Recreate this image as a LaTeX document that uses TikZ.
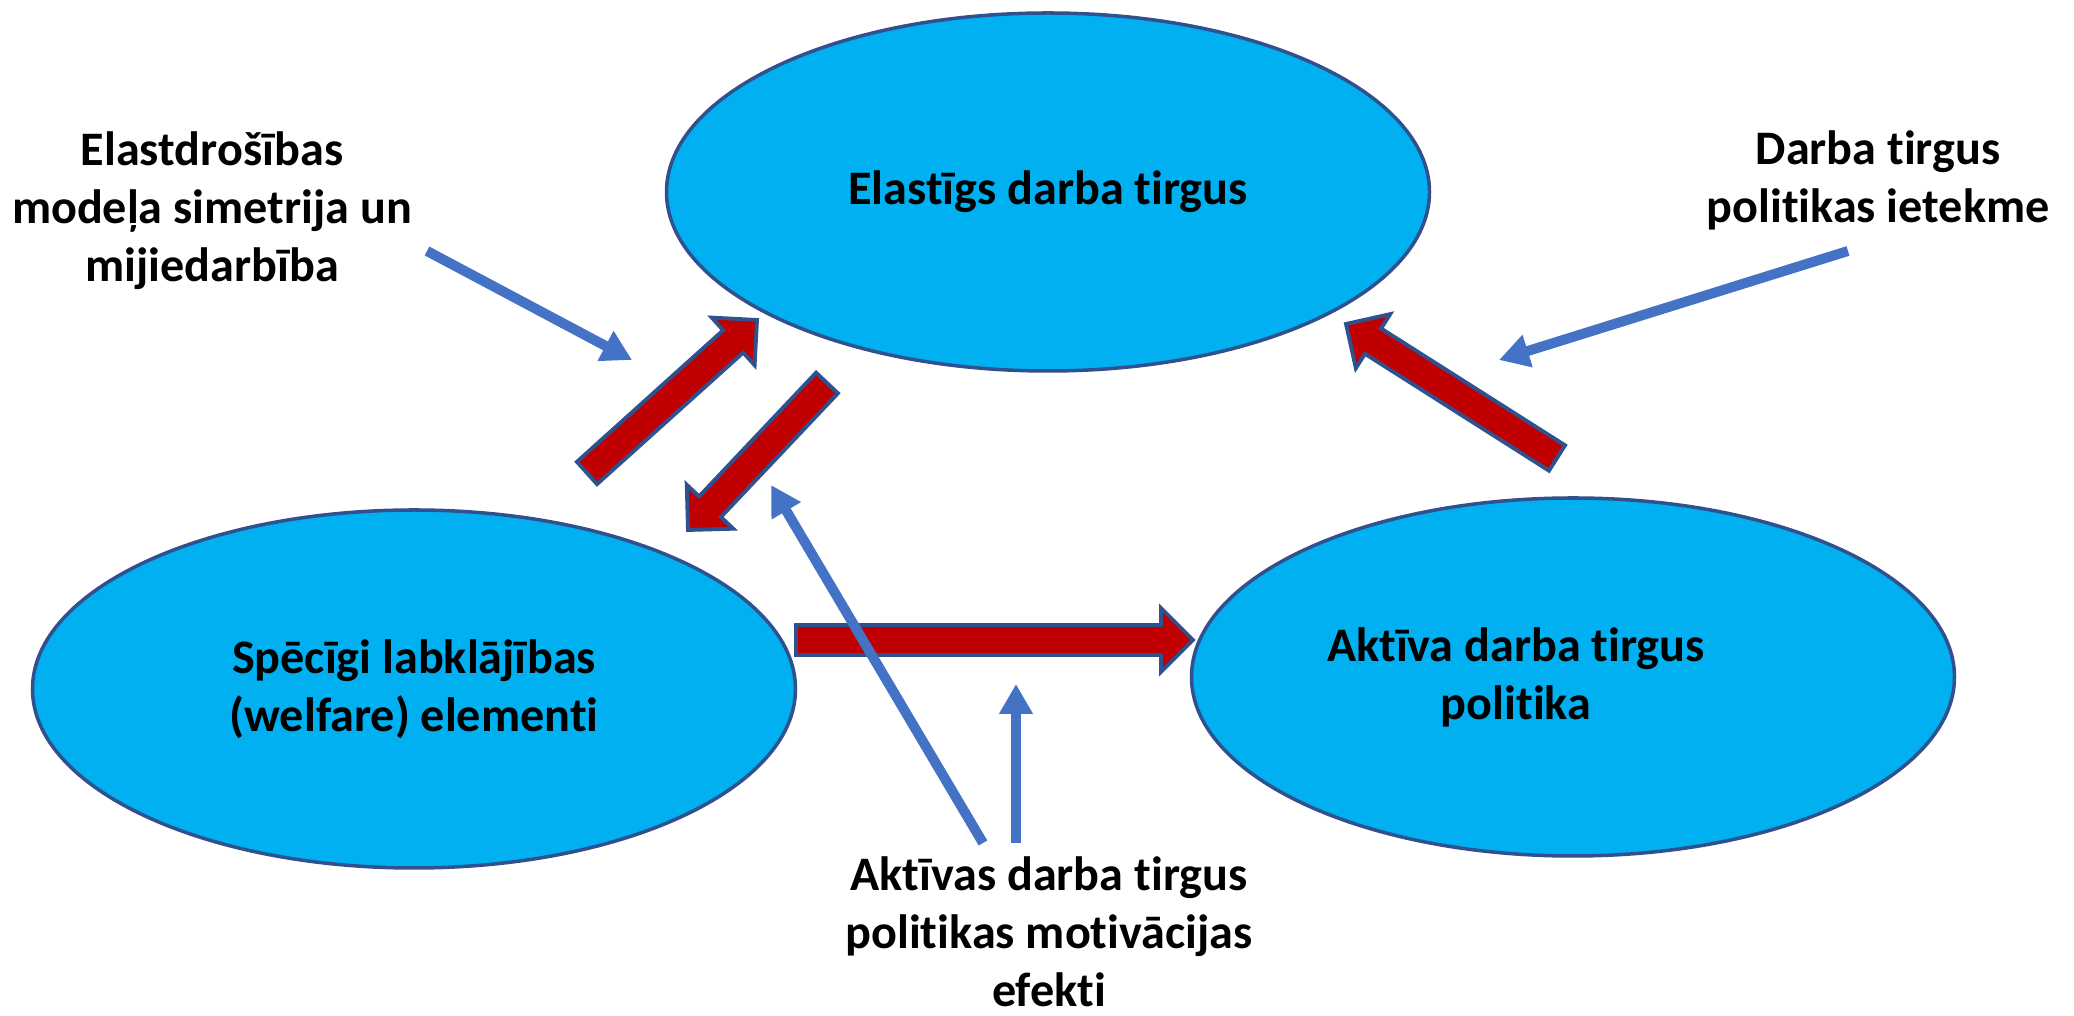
\documentclass[tikz,border=0pt]{standalone}
\usepackage{fontspec}
\setmainfont[Ligatures=NoCommon]{Carlito}
\usetikzlibrary{shapes.geometric,arrows.meta,calc}

\definecolor{ovalfill}{HTML}{00B0F0}
\definecolor{ovaledge}{HTML}{2F528F}
\definecolor{arrred}{HTML}{C00000}
\definecolor{arrblue}{HTML}{4472C4}

\tikzset{
    oval/.style={ellipse, draw=ovaledge, line width=1pt, fill=ovalfill,
        minimum width=7.63cm, minimum height=3.58cm, inner sep=0pt,
        align=center, font=\fontsize{13.7}{16.5}\selectfont\bfseries},
    lbl/.style={align=center, inner sep=0pt, font=\fontsize{13.7}{16.5}\selectfont\bfseries},
    blockred/.style={fill=arrred, draw=ovaledge, line width=1.1pt, line join=miter},
    bluearrow/.style={draw=arrblue, line width=0.1cm,
        -{Triangle[length=0.3cm, width=0.32cm]}}
}

% block arrow from #1 to #2
\newcommand\blockarrow[2]{
    \coordinate (nk) at ($(#2)!0.32cm!(#1)$);
    \filldraw[blockred] ($(#1)!0.15cm!90:(#2)$) -- ($(nk)!0.15cm!90:(#2)$)
        -- ($(nk)!0.32cm!90:(#2)$) -- (#2) -- ($(nk)!0.32cm!-90:(#2)$)
        -- ($(nk)!0.15cm!-90:(#2)$) -- ($(#1)!0.15cm!-90:(#2)$) -- cycle;
}

\begin{document}
\begin{tikzpicture}
    \useasboundingbox (0,0) rectangle (20.74,10.16);

    \node[oval] (elastic) at (10.48,8.24) {Elastīgs darba tirgus};
    \node[oval] (welfare) at (4.14,3.27) {Spēcīgi labklājības\\(welfare) elementi};
    \node[oval] (active) at (15.73,3.39) {};
    \node[lbl] (activetxt) at (15.16,3.39) {Aktīva darba tirgus\\politika};

    \node[lbl] (symmetry) at (2.12,8.05) {Elastdrošības\\modeļa simetrija un\\mijiedarbība};
    \node[lbl] (impact) at (18.78,8.36) {Darba tirgus\\politikas ietekme};
    \node[lbl] (motiv) at (10.49,0.84) {Aktīvas darba tirgus\\politikas motivācijas\\efekti};

    % red arrows
    \coordinate (r1a) at (5.87,5.43);
    \coordinate (r1b) at (7.57,6.96);
    \coordinate (r2a) at (8.27,6.33);
    \coordinate (r2b) at (6.88,4.86);
    \coordinate (r3a) at (7.96,3.76);
    \coordinate (r3b) at (11.93,3.76);
    \coordinate (r4a) at (15.57,5.58);
    \coordinate (r4b) at (13.46,6.92);

    \blockarrow{r1a}{r1b}
    \blockarrow{r2a}{r2b}
    \blockarrow{r3a}{r3b}
    \blockarrow{r4a}{r4b}

    % blue arrows
    \coordinate (b1a) at (4.27,7.65);
    \coordinate (b1b) at (6.32,6.56);
    \coordinate (b2a) at (18.48,7.65);
    \coordinate (b2b) at (14.99,6.56);
    \coordinate (b3a) at (9.83,1.73);
    \coordinate (b3b) at (7.71,5.31);
    \coordinate (b4a) at (10.16,1.73);
    \coordinate (b4b) at (10.16,3.32);

    \draw[bluearrow] (b1a) -- (b1b);
    \draw[bluearrow] (b2a) -- (b2b);
    \draw[bluearrow] (b3a) -- (b3b);
    \draw[bluearrow] (b4a) -- (b4b);
\end{tikzpicture}
\end{document}
